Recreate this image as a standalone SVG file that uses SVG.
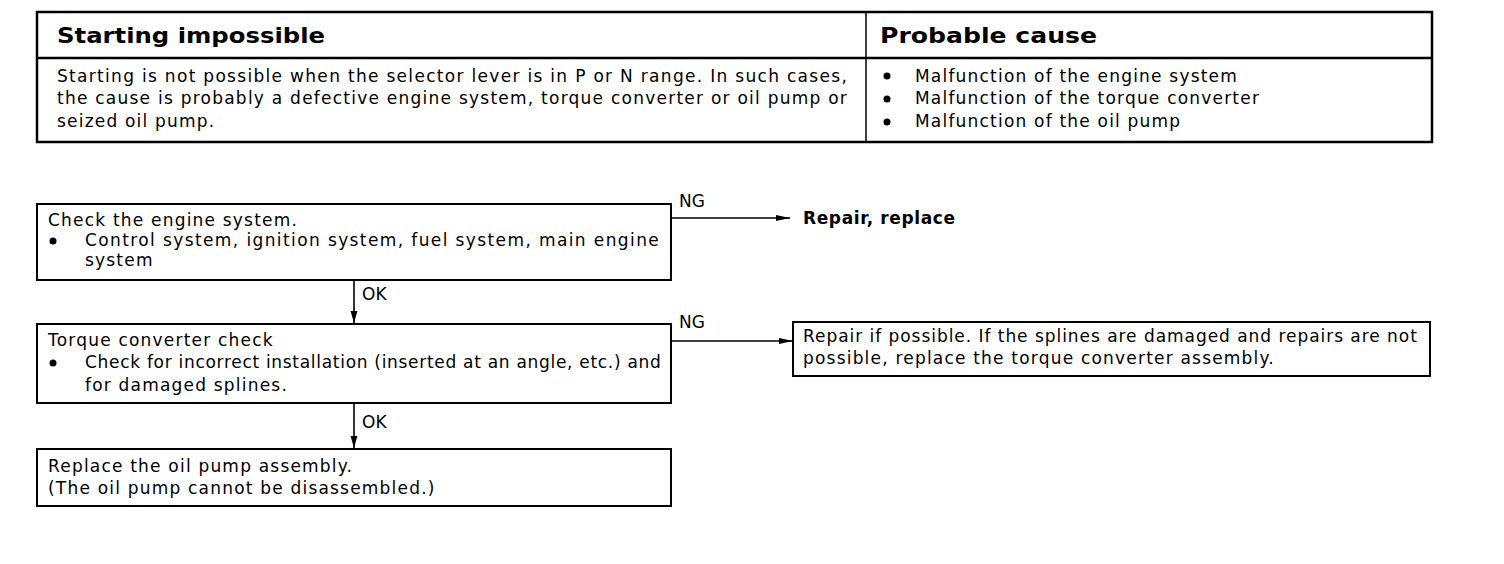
<svg xmlns="http://www.w3.org/2000/svg" width="1504" height="564" viewBox="0 0 1504 564">
<style>
.t{font-family:"DejaVu Sans","Liberation Sans",Arial,sans-serif;font-size:17px;letter-spacing:1.2px;fill:#000}
.b{font-weight:bold;letter-spacing:0}
.h{font-family:"DejaVu Sans","Liberation Sans",Arial,sans-serif;font-size:22px;font-weight:bold;fill:#000}
.frame{fill:#fff;stroke:#000;stroke-width:2.5}
.box{fill:#fff;stroke:#000;stroke-width:2}
.ln{fill:none;stroke:#000;stroke-width:1.6}
.lbl{font-family:"DejaVu Sans","Liberation Sans",Arial,sans-serif;font-size:17px;fill:#000}
</style>
<defs>
<marker id="ar" viewBox="0 0 14 8" refX="14" refY="4" markerWidth="14" markerHeight="8" markerUnits="userSpaceOnUse" orient="auto">
<path d="M0,1 L14,4 L0,7 Z" fill="#000"/>
</marker>
<marker id="ad" viewBox="0 0 14 8" refX="14" refY="4" markerWidth="12" markerHeight="8" markerUnits="userSpaceOnUse" orient="auto">
<path d="M0,0 L14,4 L0,8 Z" fill="#000"/>
</marker>
</defs>
<rect width="1504" height="564" fill="#fff"/>

<g id="table">
<rect class="frame" x="37" y="12" width="1395" height="130"/>
<line class="frame" x1="37" y1="58" x2="1432" y2="58"/>
<line x1="866" y1="12" x2="866" y2="142" stroke="#000" stroke-width="1.5"/>
<text class="h" x="57" y="43" textLength="268" lengthAdjust="spacingAndGlyphs">Starting impossible</text>
<text class="h" x="880" y="43" textLength="217" lengthAdjust="spacingAndGlyphs">Probable cause</text>
<text class="t" x="57" y="82" textLength="791" lengthAdjust="spacing">Starting is not possible when the selector lever is in P or N range. In such cases,</text>
<text class="t" x="57" y="104" textLength="791" lengthAdjust="spacing">the cause is probably a defective engine system, torque converter or oil pump or</text>
<text class="t" x="57" y="127">seized oil pump.</text>
<circle cx="887" cy="76" r="3.5"/>
<circle cx="887" cy="99" r="3.5"/>
<circle cx="887" cy="122" r="3.5"/>
<text class="t" x="915" y="82">Malfunction of the engine system</text>
<text class="t" x="915" y="104">Malfunction of the torque converter</text>
<text class="t" x="915" y="127">Malfunction of the oil pump</text>
</g>

<g id="connectors">
<line class="ln" x1="671" y1="218" x2="790" y2="218" marker-end="url(#ar)"/>
<line class="ln" x1="671" y1="341" x2="793" y2="341" marker-end="url(#ar)"/>
<line class="ln" x1="354" y1="280" x2="354" y2="323" marker-end="url(#ad)"/>
<line class="ln" x1="354" y1="403" x2="354" y2="448" marker-end="url(#ad)"/>
<text class="lbl" x="679" y="207">NG</text>
<text class="lbl" x="679" y="328">NG</text>
<text class="lbl" x="362" y="300">OK</text>
<text class="lbl" x="362" y="428">OK</text>
</g>

<g id="node-engine">
<rect class="box" x="37" y="204" width="634" height="76"/>
<text class="t" x="48" y="226">Check the engine system.</text>
<circle cx="53" cy="241" r="3.5"/>
<text class="t" x="85" y="246" textLength="575" lengthAdjust="spacing">Control system, ignition system, fuel system, main engine</text>
<text class="t" x="85" y="266">system</text>
</g>

<g id="node-repair-replace">
<text class="t b" x="803" y="224" textLength="152" lengthAdjust="spacing">Repair, replace</text>
</g>

<g id="node-torque">
<rect class="box" x="37" y="324" width="634" height="79"/>
<text class="t" x="48" y="346">Torque converter check</text>
<circle cx="53" cy="363" r="3.5"/>
<text class="t" x="85" y="368" textLength="577" lengthAdjust="spacing">Check for incorrect installation (inserted at an angle, etc.) and</text>
<text class="t" x="85" y="391">for damaged splines.</text>
</g>

<g id="node-repair-torque">
<rect class="box" x="793" y="322" width="637" height="54"/>
<text class="t" x="803" y="342" textLength="615" lengthAdjust="spacing">Repair if possible. If the splines are damaged and repairs are not</text>
<text class="t" x="803" y="364">possible, replace the torque converter assembly.</text>
</g>

<g id="node-oilpump">
<rect class="box" x="37" y="449" width="634" height="57"/>
<text class="t" x="48" y="472">Replace the oil pump assembly.</text>
<text class="t" x="48" y="494">(The oil pump cannot be disassembled.)</text>
</g>
</svg>
